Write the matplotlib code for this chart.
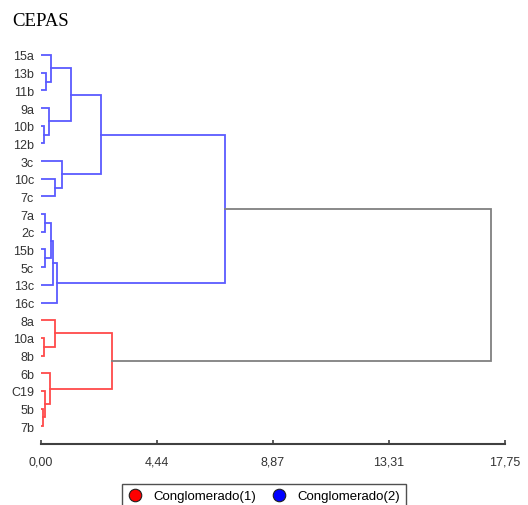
import numpy as np
import matplotlib.pyplot as plt
from matplotlib.lines import Line2D

plt.rcParams['font.family'] = ['Liberation Sans', 'DejaVu Sans']

# leaves, top to bottom
leaves = ["15a", "13b", "11b", "9a", "10b", "12b", "3c", "10c", "7c",
          "7a", "2c", "15b", "5c", "13c", "16c",
          "8a", "10a", "8b", "6b", "C19", "5b", "7b"]

# linkage-like table: node ids 0..21 are leaves, merges get 22, 23, ...
merge_left = [1, 0, 4, 3, 23, 7, 6, 26, 9, 11, 30, 32, 33, 29, 16, 15, 20, 19, 18, 37, 35]
merge_right = [2, 22, 5, 24, 25, 8, 27, 28, 10, 12, 31, 13, 14, 34, 17, 36, 21, 38, 39, 40, 41]
merge_height = [0.18, 0.40, 0.13, 0.32, 1.13, 0.54, 0.82, 2.28, 0.17, 0.17, 0.40,
                0.47, 0.60, 7.04, 0.11, 0.54, 0.06, 0.15, 0.34, 2.70, 17.20]

tick_values = [0.0, 4.4375, 8.875, 13.3125, 17.75]
tick_labels = ["0,00", "4,44", "8,87", "13,31", "17,75"]

cluster_names = ["Conglomerado(1)", "Conglomerado(2)"]
cluster_colors = ["#ff4a4a", "#5a5aff"]
root_color = "#808080"

n = len(leaves)
ypos = {i: float(i) for i in range(n)}
hgt = {i: 0.0 for i in range(n)}
for k, (a, b, h) in enumerate(zip(merge_left, merge_right, merge_height)):
    node = n + k
    ypos[node] = (ypos[a] + ypos[b]) / 2
    hgt[node] = h


def members(node):
    if node < n:
        return {node}
    k = node - n
    return {node} | members(merge_left[k]) | members(merge_right[k])


# the two top clusters: 41 (red) and 35 (blue); root link stays grey
red_nodes = members(41)
blue_nodes = members(35)

fig = plt.figure(figsize=(5.28, 5.06), dpi=100)
ax = fig.add_axes([0.0777, 0.1206, 0.8787, 0.7904])

for k, (a, b, h) in enumerate(zip(merge_left, merge_right, merge_height)):
    node = n + k
    if node in blue_nodes:
        c = cluster_colors[1]
    elif node in red_nodes:
        c = cluster_colors[0]
    else:
        c = root_color
    ax.plot([hgt[a], h, h, hgt[b]], [ypos[a], ypos[a], ypos[b], ypos[b]],
            color=c, lw=1.3, solid_joinstyle='miter')

ax.set_xlim(0, 17.75)
ax.set_ylim(22.0, -0.62)
ax.set_yticks(range(n))
ax.set_yticklabels(leaves, fontsize=9, color='#333333')
ax.tick_params(axis='y', length=0, pad=5)
ax.set_xticks(tick_values)
ax.set_xticklabels(tick_labels, fontsize=9, color='#333333')
ax.tick_params(axis='x', direction='in', length=3, width=1.2, color='#404040', pad=8)
for s in ['top', 'right', 'left']:
    ax.spines[s].set_visible(False)
ax.spines['bottom'].set_color('#404040')
ax.spines['bottom'].set_linewidth(1.5)
ax.spines['bottom'].set_bounds(0, 17.75)

fig.text(0.023, 0.957, "CEPAS", family='Liberation Serif', fontsize=13.5, va='center')

handles = [Line2D([], [], marker='o', ls='none', markersize=9,
                  markerfacecolor=col, markeredgecolor='#202020', markeredgewidth=0.8)
           for col in ["#ff0000", "#0000ff"]]
fig.legend(handles, cluster_names, loc='upper center', ncol=2,
           bbox_to_anchor=(264 / 528, 1 - 485 / 506), borderaxespad=0, fontsize=9.5,
           frameon=True, fancybox=False, edgecolor='#505050', framealpha=1,
           handletextpad=0.9, columnspacing=1.2, borderpad=0.45, handlelength=1.0)

fig.savefig("out.png", dpi=100)
